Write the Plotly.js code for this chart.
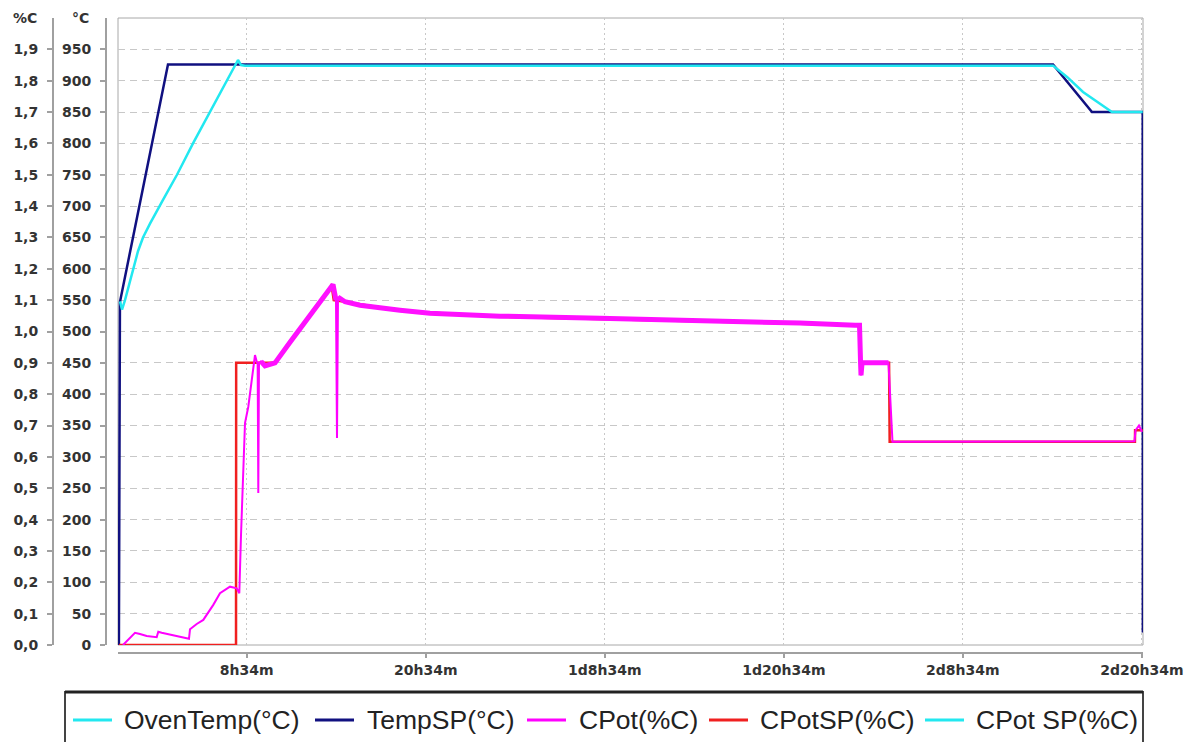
<!DOCTYPE html>
<html>
<head>
<meta charset="utf-8">
<script src="https://cdn.plot.ly/plotly-3.0.1.min.js"></script>
<style>html,body{margin:0;padding:0;background:#fff}#chart{width:1189px;height:742px}</style>
</head>
<body>
<div id="chart"></div>
<script>
// ---- tick labels ----
const xTickVals = [8.567, 20.567, 32.567, 44.567, 56.567, 68.567];
const xTickText = ['8h34m', '20h34m', '1d8h34m', '1d20h34m', '2d8h34m', '2d20h34m'];
const tempTickVals = [0, 50, 100, 150, 200, 250, 300, 350, 400, 450, 500, 550, 600, 650, 700, 750, 800, 850, 900, 950];
const pctTickVals = [0, 0.1, 0.2, 0.3, 0.4, 0.5, 0.6, 0.7, 0.8, 0.9, 1.0, 1.1, 1.2, 1.3, 1.4, 1.5, 1.6, 1.7, 1.8, 1.9];

// ---- OvenTemp (°C), time in hours ----
const ovenHours = [0.074, 0.208, 0.409, 0.677, 0.945, 1.28, 1.616, 2.085, 2.956, 3.894, 4.967, 6.106, 7.246, 7.782, 7.983, 8.184, 8.452, 62.61, 63.55, 64.62, 65.76, 66.56, 68.62];
const ovenTemp  = [548, 535, 550, 575, 600, 628, 650, 672, 710, 750, 800, 850, 900, 925, 933, 925, 924, 924, 906, 882, 864, 850, 850];

// ---- TempSP (°C) ----
const spHours = [0.0, 0.07, 3.29, 62.61, 65.22, 66.63, 68.62, 68.63];
const tempSP  = [0, 547, 926, 926, 850, 850, 850, 20];

// ---- CPot (%C) ----
const cpotHours = [0.275, 1.079, 1.414, 1.864, 2.534, 2.641, 2.869, 4.699, 4.766, 5.215, 5.657, 6.327, 6.776, 7.447, 7.896, 8.07, 8.184, 8.338, 8.452, 8.673, 9.008, 9.122, 9.256, 9.30, 9.343, 9.39, 9.524, 9.793, 10.128, 10.463, 11.468, 12.809, 14.263, 14.35, 14.551, 14.618, 14.685, 14.819, 15.154, 16.159, 17.5, 18.84, 20.85, 25.54, 32.24, 38.95, 45.65, 49.34, 49.64, 49.71, 49.74, 49.81, 50.34, 51.58, 51.85, 59.06, 68.07, 68.14, 68.37, 68.57];
const cpot      = [0.0, 0.039, 0.035, 0.029, 0.025, 0.042, 0.039, 0.02, 0.05, 0.067, 0.08, 0.128, 0.165, 0.186, 0.181, 0.165, 0.35, 0.59, 0.708, 0.76, 0.887, 0.925, 0.9, 0.9, 0.485, 0.9, 0.905, 0.89, 0.895, 0.9, 0.966, 1.053, 1.148, 1.15, 1.10, 0.66, 1.11, 1.105, 1.095, 1.084, 1.074, 1.068, 1.058, 1.049, 1.042, 1.036, 1.027, 1.02, 1.02, 0.9, 0.86, 0.9, 0.9, 0.9, 0.648, 0.648, 0.65, 0.685, 0.70, 0.68];

// ---- CPotSP (%C) ----
const cpotSpHours = [0.0, 7.85, 7.86, 10.463, 14.263, 14.40, 15.154, 18.84, 25.54, 32.24, 38.95, 45.65, 49.67, 49.68, 51.62, 51.66, 68.10, 68.11, 68.62];
const cpotSP      = [0, 0, 0.9, 0.9, 1.145, 1.10, 1.095, 1.066, 1.047, 1.04, 1.034, 1.025, 1.02, 0.9, 0.9, 0.648, 0.648, 0.685, 0.685];

// ---- CPot SP (%C) : no visible samples ----
const cpotSp2Hours = [null];
const cpotSp2      = [null];

// ---- legend order (names) ----
const legendNames = ['OvenTemp(°C)', 'TempSP(°C)', 'CPot(%C)', 'CPotSP(%C)', 'CPot SP(%C)'];
const legendColors = ['#22e8f0', '#101080', '#ff00ff', '#f02020', '#22e8f0'];

// ---- geometry helpers (pixel -> paper) ----
const paperW = 1143, paperBottom = 653, paperH = 635;
const px = x => x / paperW;
const py = y => (paperBottom - y) / paperH;

// noisy band portion of CPot (thick line), built from the same arrays
const bandH = [], bandV = [];
cpotHours.forEach((h, i) => {
  if (h >= 9.5 && h <= 51.6) { bandH.push(h); bandV.push(cpot[i] < 0.8 ? null : cpot[i]); }
});

const traces = [
  {x: cpotSpHours, y: cpotSP, name: legendNames[3], yaxis: 'y2', mode: 'lines', line: {color: legendColors[3], width: 2.5}},
  {x: cpotSp2Hours, y: cpotSp2, name: legendNames[4], yaxis: 'y2', mode: 'lines', line: {color: legendColors[4], width: 2.5}},
  {x: cpotHours, y: cpot, name: legendNames[2], yaxis: 'y2', mode: 'lines', line: {color: legendColors[2], width: 2}},
  {x: bandH, y: bandV, name: legendNames[2], yaxis: 'y2', mode: 'lines', line: {color: '#ff10ff', width: 5}, connectgaps: false, hoverinfo: 'skip'},
  {x: spHours, y: tempSP, name: legendNames[1], yaxis: 'y', mode: 'lines', line: {color: legendColors[1], width: 2.5}},
  {x: ovenHours, y: ovenTemp, name: legendNames[0], yaxis: 'y', mode: 'lines', line: {color: legendColors[0], width: 2.5}}
];

const tickFont = {size: 14, color: '#333', family: 'DejaVu Sans, Verdana, sans-serif', weight: 'bold'};
const axisCommon = {
  showline: true, linecolor: '#a0a0a0', linewidth: 2,
  ticks: 'outside', tickwidth: 2, tickcolor: '#a0a0a0',
  zeroline: false, tickfont: tickFont
};

// manual legend layout (positions in pixels)
const legSampleX = [73, 315, 527, 709, 925];
const legTextX = [122, 365, 577, 758, 974];
const legY = 720;

const shapes = [
  {type: 'rect', xref: 'paper', yref: 'paper', x0: px(118), x1: 1, y0: 8 / paperH, y1: 1,
   line: {color: '#a8a8a8', width: 1}, layer: 'below'},
  {type: 'rect', xref: 'paper', yref: 'paper', x0: px(65), x1: 1, y0: py(770), y1: py(692),
   line: {color: '#444', width: 2}},
  {type: 'line', xref: 'paper', yref: 'paper', x0: px(65), x1: 1, y0: py(692), y1: py(692),
   line: {color: '#222', width: 3}}
];
const annotations = [
  {text: '%C', xref: 'paper', yref: 'paper', x: px(39), y: py(18), xanchor: 'right', yanchor: 'middle', showarrow: false, font: tickFont},
  {text: '°C', xref: 'paper', yref: 'paper', x: px(91), y: py(18), xanchor: 'right', yanchor: 'middle', showarrow: false, font: tickFont}
];
legendNames.forEach((n, i) => {
  shapes.push({type: 'line', xref: 'paper', yref: 'paper', x0: px(legSampleX[i]), x1: px(legSampleX[i] + 39),
    y0: py(legY), y1: py(legY), line: {color: legendColors[i], width: 3}});
  annotations.push({text: n, xref: 'paper', yref: 'paper', x: px(legTextX[i]), y: py(legY),
    xanchor: 'left', yanchor: 'middle', showarrow: false,
    font: {size: 26.5, color: '#222', family: 'Liberation Sans, Arial, sans-serif'}});
});

const layout = {
  width: 1189, height: 742,
  margin: {l: 0, r: 46, t: 18, b: 89},
  paper_bgcolor: '#ffffff', plot_bgcolor: '#ffffff',
  separators: ',.',
  font: {family: 'Liberation Sans, Arial, sans-serif', color: '#222', size: 14},
  showlegend: false,
  xaxis: Object.assign({}, axisCommon, {
    domain: [px(118), 1], range: [-0.06, 68.64], anchor: 'free', position: 0,
    tickmode: 'array', tickvals: xTickVals, ticktext: xTickText, ticklen: 4,
    showgrid: true, gridcolor: '#c8c8c8', griddash: '2px,3px', gridwidth: 1
  }),
  yaxis: Object.assign({}, axisCommon, {
    domain: [8 / paperH, 1], range: [0, 1000], anchor: 'free', position: px(106), side: 'left',
    tickmode: 'array', tickvals: tempTickVals, ticklen: 5, ticklabelstandoff: 6,
    showgrid: true, gridcolor: '#c8c8c8', griddash: '7px,5px', gridwidth: 1
  }),
  yaxis2: Object.assign({}, axisCommon, {
    overlaying: 'y', range: [0, 2], anchor: 'free', position: px(53), side: 'left',
    tickmode: 'array', tickvals: pctTickVals, tickformat: '.1f', ticklen: 5, ticklabelstandoff: 6,
    showgrid: false
  }),
  shapes: shapes,
  annotations: annotations
};

Plotly.newPlot('chart', traces, layout, {displayModeBar: false, staticPlot: true});
</script>
</body>
</html>
